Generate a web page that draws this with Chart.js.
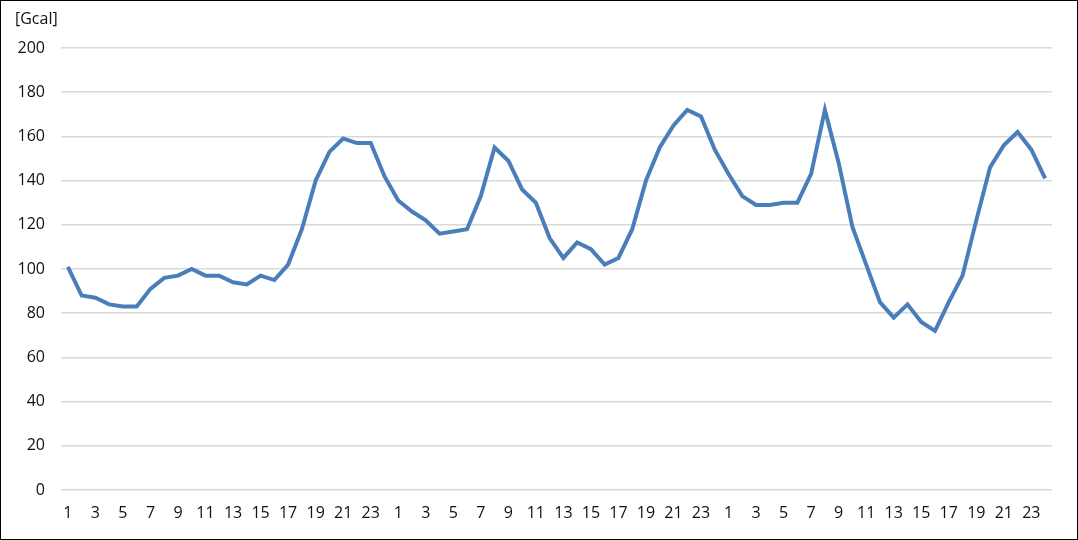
<!DOCTYPE html>
<html>
<head>
<meta charset="utf-8">
<script src="https://cdn.jsdelivr.net/npm/chart.js@4/dist/chart.umd.min.js"></script>
<style>
    body { margin: 0; background: #fff; }
    #wrap {
        width: 1078px;
        height: 540px;
        box-sizing: border-box;
        border: 1px solid #000;
        position: relative;
    }
    #unit {
        position: absolute;
        left: 14px;
        top: 6px;
        font: 16px "Open Sans", sans-serif;
        color: #111;
    }
</style>
</head>
<body>
<div id="wrap">
    <div id="unit">[Gcal]</div>
    <canvas id="chart" width="1076" height="538"></canvas>
</div>
<script>
// Hours, three consecutive days
const hours = [];
for (let d = 0; d < 3; d++) {
    for (let h = 1; h <= 24; h++) hours.push(String(h));
}

const day1 = [101, 88, 87, 84, 83, 83, 91, 96, 97, 100, 97, 97, 94, 93, 97, 95, 102, 118, 140, 153, 159, 157, 157, 142];
const day2 = [131, 126, 122, 116, 117, 118, 133, 155, 149, 136, 130, 114, 105, 112, 109, 102, 105, 118, 140, 155, 165, 172, 169, 154];
const day3 = [143, 133, 129, 129, 130, 130, 143, 172, 148, 119, 102, 85, 78, 84, 76, 72, 85, 97, 122, 146, 156, 162, 154, 141];

const yTicks = [0, 20, 40, 60, 80, 100, 120, 140, 160, 180, 200];

const values = day1.concat(day2, day3);
const tickFont = { family: '"Open Sans", sans-serif', size: 16 };

new Chart(document.getElementById('chart'), {
    type: 'line',
    data: {
        labels: hours,
        datasets: [{
            data: values,
            borderColor: '#4a7ebb',
            borderWidth: 4,
            pointRadius: 0,
            tension: 0,
            fill: false
        }]
    },
    options: {
        responsive: false,
        animation: false,
        layout: { padding: { left: 8, right: 25, top: 47, bottom: 15 } },
        plugins: {
            legend: { display: false },
            tooltip: { enabled: false }
        },
        scales: {
            x: {
                offset: true,
                grid: { display: false, drawTicks: false },
                border: { display: false },
                ticks: {
                    autoSkip: false,
                    maxRotation: 0,
                    padding: 14,
                    color: '#111',
                    font: tickFont,
                    callback: (v, i) => (i % 2 === 0 ? hours[i] : '')
                },
                afterFit: (scale) => { scale.height = 34; }
            },
            y: {
                min: 0,
                max: 200,
                afterBuildTicks: (scale) => {
                    scale.ticks = yTicks.map(v => ({ value: v }));
                },
                grid: { color: '#d9d9d9', lineWidth: 1.5, drawTicks: false },
                border: { display: false },
                ticks: {
                    padding: 16,
                    color: '#111',
                    font: tickFont
                },
                afterFit: (scale) => { scale.width = 52; }
            }
        }
    }
});
</script>
</body>
</html>
